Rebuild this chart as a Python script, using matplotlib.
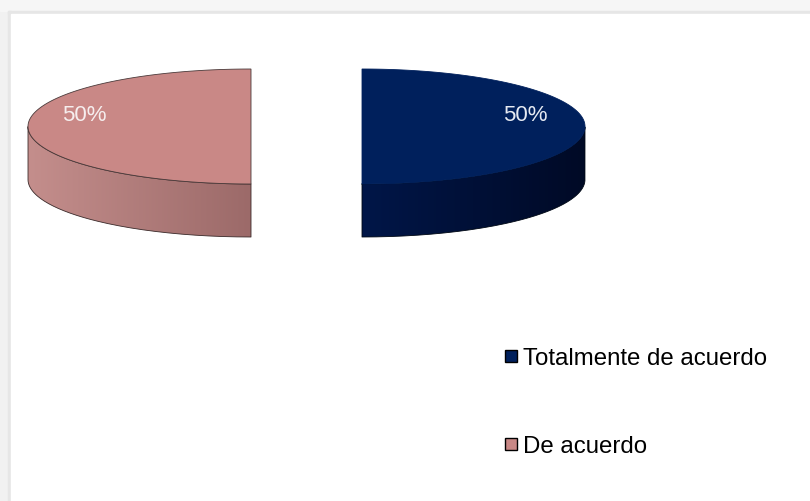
import numpy as np
import matplotlib
matplotlib.use("Agg")
import matplotlib.pyplot as plt
from matplotlib.patches import Rectangle, Polygon
from matplotlib.colors import LinearSegmentedColormap

# ---- data ----
categories = ["Totalmente de acuerdo", "De acuerdo"]
values = [50, 50]
top_colors = ["#00205C", "#C98886"]
side_dark = [("#001648", "#000A26"), ("#C48E8C", "#9C6A69")]
label_colors = ["#E6EAF2", "#F6EEEE"]

W, H = 810, 502
fig = plt.figure(figsize=(W / 100, H / 100), dpi=100, facecolor="#f1f1f1")
ax = fig.add_axes([0, 0, 1, 1])
ax.set_xlim(0, W)
ax.set_ylim(H, 0)
ax.axis("off")

# background panel (screenshot frame)
ax.add_patch(Rectangle((0, 0), W, 12, color="#f6f6f6", zorder=0))
ax.add_patch(Rectangle((8, 12), W, 3, color="#e6e6e6", zorder=0))
ax.add_patch(Rectangle((8, 12), 3, H, color="#e6e6e6", zorder=0))
ax.add_patch(Rectangle((11, 15), W, H, color="white", zorder=0))

# pie geometry
cx, cy = 306.5, 127.5
rx, ry = 223, 57.5
depth = 53
explode = 55.5

total = float(sum(values))
start = 90.0
for i, (cat, v) in enumerate(zip(categories, values)):
    sweep = 360.0 * v / total
    a0, a1 = start - sweep, start  # clockwise
    mid = np.radians((a0 + a1) / 2)
    ox = cx + explode * np.cos(mid)
    oy = cy - explode * np.sin(mid) * ry / rx
    t = np.radians(np.linspace(a0, a1, 200))
    xs = ox + rx * np.cos(t)
    ys = oy - ry * np.sin(t)

    # side (front part)
    tf = t[np.sin(t) <= 1e-9]
    if len(tf) > 1:
        sx = ox + rx * np.cos(tf)
        sy = oy - ry * np.sin(tf)
        pts = np.concatenate([np.c_[sx, sy], np.c_[sx[::-1], sy[::-1] + depth]])
        poly = Polygon(pts, closed=True, facecolor="none", edgecolor="none", zorder=2)
        ax.add_patch(poly)
        cmap = LinearSegmentedColormap.from_list("s%d" % i, side_dark[i])
        grad = np.linspace(0, 1, 256).reshape(1, -1)
        im = ax.imshow(grad, cmap=cmap, aspect="auto",
                       extent=[sx.min(), sx.max(), sy.max() + depth, sy.min()],
                       zorder=2, interpolation="bilinear")
        im.set_clip_path(poly)
        ax.plot(np.r_[sx, sx[::-1], sx[0]],
                np.r_[sy, sy[::-1] + depth, sy[0]],
                color="#3a2a2a" if i == 1 else "#000814", lw=0.6, zorder=3)

    # top face
    top = np.c_[np.r_[ox, xs, ox], np.r_[oy, ys, oy]]
    ax.add_patch(Polygon(top, closed=True, facecolor=top_colors[i],
                         edgecolor="#4a3a3a" if i == 1 else top_colors[i],
                         lw=0.6, zorder=4))

    # percentage label
    lx = ox + 0.74 * rx * np.cos(mid) - 2
    ly = oy - 12
    ax.text(lx, ly, "%d%%" % round(100 * v / total), color=label_colors[i],
            fontsize=16, family="Liberation Sans", ha="center", va="center",
            zorder=5)
    start = a0

# legend
leg_y = [365, 453]
for i, cat in enumerate(categories):
    ax.add_patch(Rectangle((505, leg_y[i] - 14), 12, 12, facecolor=top_colors[i],
                           edgecolor="black", lw=1.0, zorder=5))
    ax.text(523, leg_y[i], cat, fontsize=17.3, family="Liberation Sans",
            color="black", ha="left", va="baseline", zorder=5)

fig.savefig("out.png", dpi=100, facecolor=fig.get_facecolor())
